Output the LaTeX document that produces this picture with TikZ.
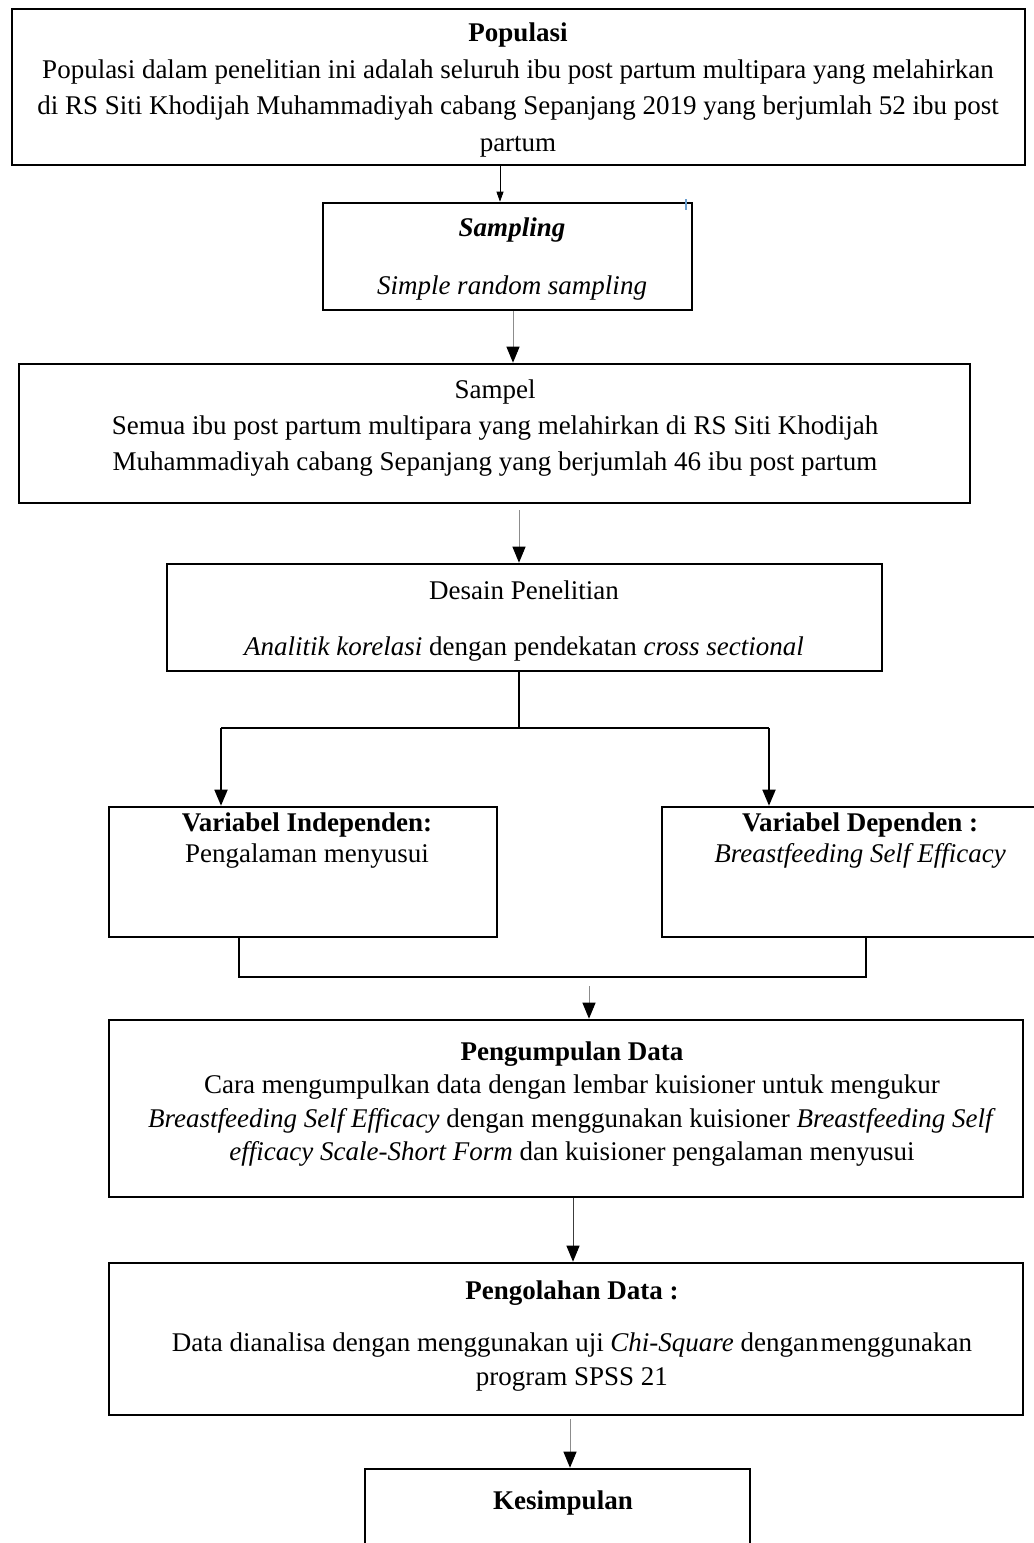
\documentclass[tikz,border=0pt]{standalone}
\usepackage{fontspec}
\setmainfont{Liberation Serif}
\usetikzlibrary{arrows.meta}
\definecolor{garisAbu}{HTML}{8c8c8c}
\definecolor{garisTua}{HTML}{3c3c3c}
\definecolor{tandaBiru}{HTML}{6a9fd0}
\tikzset{
    kotak/.style={draw, line width=1.3pt, inner sep=0pt},
    teks/.style={align=center, inner sep=0pt, font=\fontsize{13.5}{18}\selectfont},
    panah/.style={-{Triangle[length=8pt, width=6.5pt, color=black]}, line width=0.5pt},
    cabang/.style={line width=0.9pt}
}

\begin{document}
\begin{tikzpicture}[x=0.5pt, y=-0.5pt]
    \useasboundingbox (0, 0) rectangle (1034, 1543);

    % kotak-kotak
    \node[kotak, minimum width=506.5pt, minimum height=78pt] (populasi) at (518.5, 87) {};
    \node[kotak, minimum width=184.5pt, minimum height=53.5pt] (sampling) at (507.5, 256.5) {};
    \node[kotak, minimum width=475.5pt, minimum height=69.5pt] (sampel) at (494.5, 433.5) {};
    \node[kotak, minimum width=357.5pt, minimum height=53.5pt] (desain) at (524.5, 617.5) {};
    \node[kotak, minimum width=194pt, minimum height=65pt] (indep) at (303, 872) {};
    \node[kotak, minimum width=194pt, minimum height=65pt] (dep) at (856, 872) {};
    \node[kotak, minimum width=457pt, minimum height=88.5pt] (kumpul) at (566, 1108.5) {};
    \node[kotak, minimum width=457pt, minimum height=76pt] (olah) at (566, 1339) {};
    \node[kotak, minimum width=192.5pt, minimum height=50.5pt] (simpul) at (557.5, 1519.5) {};

    % isi teks
    \node[teks, font=\fontsize{13.5}{18.3}\selectfont] (populasiT) at (518, 90) {\textbf{Populasi}\\
        Populasi dalam penelitian ini adalah seluruh ibu post partum multipara yang melahirkan\\
        di RS Siti Khodijah Muhammadiyah cabang Sepanjang 2019 yang berjumlah 52 ibu post\\
        partum};
    \node[teks] (samplingT) at (512, 259) {\textbf{\textit{Sampling}}\\[11pt]\textit{Simple random sampling}};
    \node[teks, font=\fontsize{13.5}{17.8}\selectfont] (sampelT) at (495, 428) {Sampel\\
        Semua ibu post partum multipara yang melahirkan di RS Siti Khodijah\\
        Muhammadiyah cabang Sepanjang yang berjumlah 46 ibu post partum};
    \node[teks] (desainT) at (524, 621) {Desain Penelitian\\[10pt]
        \textit{Analitik korelasi} dengan pendekatan \textit{cross sectional}};
    \node[teks, font=\fontsize{13.5}{15.5}\selectfont] (indepT) at (307, 841) {\textbf{Variabel Independen:}\\ Pengalaman menyusui};
    \node[teks, font=\fontsize{13.5}{15.5}\selectfont] (depT) at (860, 841) {\textbf{Variabel Dependen :}\\ \textit{Breastfeeding Self Efficacy}};
    \node[teks, font=\fontsize{13.5}{16.7}\selectfont] (kumpulT) at (572, 1104) {\textbf{Pengumpulan Data}\\
        Cara mengumpulkan data dengan lembar kuisioner untuk mengukur\\
        \textit{Breastfeeding Self Efficacy} dengan menggunakan kuisioner \textit{Breastfeeding Self}\\
        \textit{efficacy Scale-Short Form} dan kuisioner pengalaman menyusui};
    \node[teks, font=\fontsize{13.5}{16.7}\selectfont] (olahT) at (572, 1336) {\textbf{Pengolahan Data :}\\[9.5pt]
        Data dianalisa dengan menggunakan uji \textit{Chi-Square} dengan\hspace{1pt}menggunakan\\
        program SPSS 21};
    \node[teks] (simpulT) at (563, 1503) {\textbf{Kesimpulan}};

    % titik bantu
    \coordinate (a1) at (500, 0);
    \coordinate (a2) at (513, 0);
    \coordinate (a3) at (519, 510);
    \coordinate (cabangTengah) at (519, 728);
    \coordinate (cabangKiri) at (221, 728);
    \coordinate (cabangKanan) at (769, 728);
    \coordinate (kurungKiri) at (239, 977);
    \coordinate (kurungKanan) at (866, 977);
    \coordinate (a4) at (589, 986);
    \coordinate (a5) at (573, 0);
    \coordinate (a6) at (570, 1419);

    % panah
    \draw[-{Triangle[length=5pt, width=3.5pt]}, line width=0.4pt] (populasi.south -| a1) -- (sampling.north -| a1);
    \draw[panah, garisAbu] (sampling.south -| a2) -- (sampel.north -| a2);
    \draw[panah, garisAbu] (a3) -- (desain.north -| a3);
    \draw[cabang] (desain.south -| a3) -- (cabangTengah);
    \draw[cabang] (cabangKiri) -- (cabangKanan);
    \draw[panah, cabang] (cabangKiri) -- (indep.north -| cabangKiri);
    \draw[panah, cabang] (cabangKanan) -- (dep.north -| cabangKanan);
    \draw[cabang] (indep.south -| kurungKiri) -- (kurungKiri) -- (kurungKanan) -- (dep.south -| kurungKanan);
    \draw[panah, garisAbu] (a4) -- (kumpul.north -| a4);
    \draw[panah, garisTua] (kumpul.south -| a5) -- (olah.north -| a5);
    \draw[panah, garisAbu] (a6) -- (simpul.north -| a6);
    \draw[tandaBiru, line width=0.6pt] (686, 199) -- (686, 210);
\end{tikzpicture}
\end{document}
